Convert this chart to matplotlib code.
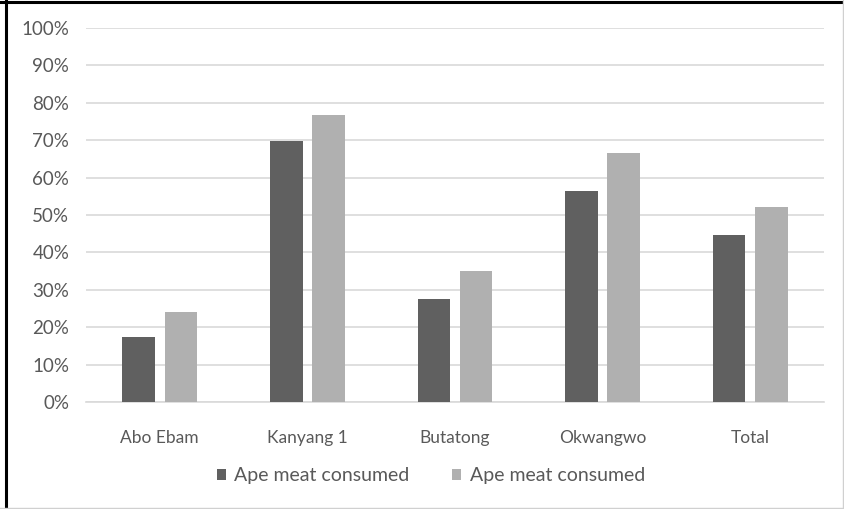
import numpy as np
import matplotlib
matplotlib.use("Agg")
import matplotlib.pyplot as plt
from matplotlib.lines import Line2D
from matplotlib.ticker import PercentFormatter

# Share of respondents per village
villages = ["Abo Ebam", "Kanyang 1", "Butatong", "Okwangwo", "Total"]
series_a = [17.3, 69.9, 27.5, 56.4, 44.7]
series_b = [24.1, 76.7, 34.9, 66.7, 52.1]
series_names = ["Ape meat consumed", "Ape meat consumed"]

plt.rcParams['font.family'] = ['Lato', 'DejaVu Sans']
text_col = "#595959"

fig = plt.figure(figsize=(8.45, 5.09), dpi=100)
ax = fig.add_axes([86/845, 107/509, 738/845, 374/509])

x = np.arange(len(villages))
w = 0.22
ax.bar(x - 0.143, series_a, w, color="#606060", label=series_names[0], zorder=3)
ax.bar(x + 0.143, series_b, w, color="#b0b0b0", label=series_names[1], zorder=3)

ax.set_xlim(-0.5, len(villages) - 0.5)
ax.set_ylim(0, 100)
ax.set_yticks(np.arange(0, 101, 10))
ax.yaxis.set_major_formatter(PercentFormatter(decimals=0))
ax.set_xticks(x)
ax.set_xticklabels(villages)
ax.tick_params(axis="x", length=0, labelsize=12.5, labelcolor=text_col, pad=20)
ax.tick_params(axis="y", length=0, labelsize=13.5, labelcolor=text_col, pad=12)
ax.grid(axis="y", color="#d9d9d9", linewidth=1.2, zorder=0)
for s in ["left", "right", "top"]:
    ax.spines[s].set_visible(False)
ax.spines["bottom"].set_color("#d9d9d9")
ax.spines["bottom"].set_linewidth(1.2)

ax.legend(loc="center", bbox_to_anchor=(431/845, 33/509), bbox_transform=fig.transFigure,
          ncol=2, frameon=False, fontsize=14, labelcolor=text_col,
          handlelength=0.45, handleheight=0.45, handletextpad=0.45, columnspacing=2.2)

# outer frame: dark on top/left, light on bottom/right
fig.add_artist(Line2D([6/845, 6/845], [0, 1], color="black", lw=2.2))
fig.add_artist(Line2D([0, 1], [1 - 2/509, 1 - 2/509], color="black", lw=2.2))
fig.add_artist(Line2D([843/845, 843/845], [0, 1], color="#d0d0d0", lw=1))
fig.add_artist(Line2D([0, 1], [1/509, 1/509], color="#d0d0d0", lw=1))

fig.savefig("out.png", dpi=100)
